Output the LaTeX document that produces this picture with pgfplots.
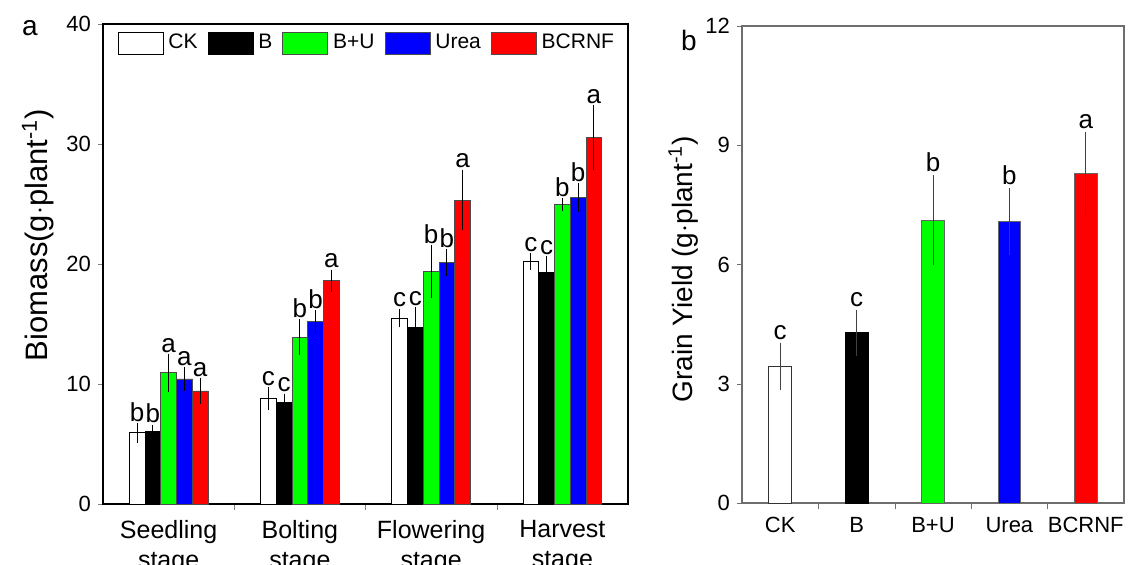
\documentclass[border=0pt]{standalone}
\usepackage{fontspec}
\setmainfont{Liberation Sans}
\usepackage{pgfplots}
\pgfplotsset{compat=1.18}

\definecolor{bgreen}{RGB}{0,255,0}
\definecolor{bblue}{RGB}{0,0,255}
\definecolor{bred}{RGB}{255,0,0}
\definecolor{frameb}{RGB}{110,110,110}

\pgfplotsset{
  barsA/.style={ybar, bar width=0.12, bar shift=0pt, line width=0.4pt,
    error bars/y dir=both, error bars/y explicit,
    error bars/error bar style={black, line width=0.5pt},
    error bars/error mark options={black, mark size=2pt, line width=0.5pt}},
  barsB/.style={ybar, bar width=0.3, bar shift=0pt, line width=0.4pt,
    error bars/y dir=both, error bars/y explicit,
    error bars/error bar style={black!75, line width=0.5pt},
    error bars/error mark options={black!75, mark size=2.5pt, line width=0.5pt}},
}

\begin{document}
\begin{tikzpicture}[x=1pt,y=1pt]
\useasboundingbox (0,0) rectangle (568,282);

% panel a
\begin{axis}[
  at={(51.5pt,30pt)}, anchor=south west,
  scale only axis, width=262.5pt, height=240pt,
  clip=false,
  xmin=0.5, xmax=4.5, ymin=0, ymax=40,
  ytick={0,10,20,30,40},
  xtick={1,2,3,4},
  xticklabels={Seedling\\stage, Bolting\\stage, Flowering\\stage, Harvest\\stage},
  minor xtick={1.5,2.5,3.5},
  every major x tick/.append style={draw=none},
  tick align=outside, major tick length=2.5pt, minor tick length=3pt,
  xtick pos=bottom, ytick pos=left,
  /pgf/number format/assume math mode=true,
  yticklabel style={font=\fontsize{11}{13}\selectfont},
  xticklabel style={font=\fontsize{12.5}{15}\selectfont, align=center, yshift=-2pt},
  ylabel={Biomass(g$\cdot$plant\textsuperscript{-1})},
  ylabel style={font=\fontsize{15.5}{18}\selectfont, at={(axis description cs:-0.124,0.56)}, anchor=center},
  axis line style={black, line width=0.6pt},
  legend image code/.code={\draw[#1, line width=0.4pt] (0pt,-5.5pt) rectangle (22.5pt,5.5pt);},
  legend style={at={(axis description cs:0.027,0.985)}, anchor=north west, draw=none, fill=none,
    legend columns=-1, font=\fontsize{10.5}{12}\selectfont, inner sep=0pt,
    nodes={inner xsep=2.5pt, inner ysep=1pt},
    /tikz/every even column/.append style={column sep=2.5pt}},
]
\addplot[barsA, fill=white, draw=black] coordinates {
  (0.76,5.94) +- (0,0.5) (1.76,8.8) +- (0,0.6) (2.76,15.5) +- (0,0.45) (3.76,20.2) +- (0,0.37)};
\addlegendentry{CK}
\addplot[barsA, fill=black, draw=black] coordinates {
  (0.88,6.08) +- (0,0.2) (1.88,8.47) +- (0,0.4) (2.88,14.75) +- (0,1.3) (3.88,19.33) +- (0,1.0)};
\addlegendentry{B}
\addplot[barsA, fill=bgreen, draw=black!70] coordinates {
  (1.0,10.94) +- (0,1.25) (2.0,13.9) +- (0,1.17) (3.0,19.36) +- (0,1.9) (4.0,24.97) +- (0,0.2)};
\addlegendentry{B+U}
\addplot[barsA, fill=bblue, draw=black!70] coordinates {
  (1.12,10.42) +- (0,0.67) (2.12,15.2) +- (0,0.6) (3.12,20.1) +- (0,0.78) (4.12,25.53) +- (0,0.9)};
\addlegendentry{Urea}
\addplot[barsA, fill=bred, draw=black!70] coordinates {
  (1.24,9.42) +- (0,0.75) (2.24,18.6) +- (0,0.6) (3.24,25.33) +- (0,2.2) (4.24,30.53) +- (0,2.4)};
\addlegendentry{BCRNF}
% significance letters
\begin{scope}[every node/.style={anchor=south, font=\fontsize{13}{15}\selectfont, inner sep=0pt, yshift=2.5pt}]
\node at (axis cs:0.76,6.44) {b};
\node at (axis cs:0.88,6.28) {b};
\node at (axis cs:1.0,12.19) {a};
\node at (axis cs:1.12,11.09) {a};
\node at (axis cs:1.24,10.17) {a};
\node at (axis cs:1.76,9.4) {c};
\node at (axis cs:1.88,8.87) {c};
\node at (axis cs:2.0,15.07) {b};
\node at (axis cs:2.12,15.8) {b};
\node at (axis cs:2.24,19.2) {a};
\node at (axis cs:2.76,15.95) {c};
\node at (axis cs:2.88,16.05) {c};
\node at (axis cs:3.0,21.26) {b};
\node at (axis cs:3.12,20.88) {b};
\node at (axis cs:3.24,27.53) {a};
\node at (axis cs:3.76,20.57) {c};
\node at (axis cs:3.88,20.33) {c};
\node at (axis cs:4.0,25.17) {b};
\node at (axis cs:4.12,26.43) {b};
\node at (axis cs:4.24,32.93) {a};
\end{scope}
\end{axis}

% panel b
\begin{axis}[
  at={(371pt,30.5pt)}, anchor=south west,
  scale only axis, width=191pt, height=238.5pt,
  clip=false,
  xmin=0.5, xmax=5.5, ymin=0, ymax=12,
  ytick={0,3,6,9,12},
  xtick={1,2,3,4,5},
  xticklabels={CK, B, B+U, Urea, BCRNF},
  minor xtick={1.5,2.5,3.5,4.5},
  every major x tick/.append style={draw=none},
  tick align=outside, major tick length=2.5pt, minor tick length=3pt,
  xtick pos=bottom, ytick pos=left,
  tick style={frameb},
  /pgf/number format/assume math mode=true,
  yticklabel style={font=\fontsize{11}{13}\selectfont},
  xticklabel style={font=\fontsize{11}{13}\selectfont, yshift=-1pt},
  ylabel={Grain Yield (g$\cdot$plant\textsuperscript{-1})},
  ylabel style={font=\fontsize{14}{16}\selectfont, at={(axis description cs:-0.154,0.49)}, anchor=center},
  axis line style={frameb, line width=0.6pt},
]
\addplot[barsB, fill=white, draw=black!80] coordinates {(1,3.43) +- (0,0.47)};
\addplot[barsB, fill=black, draw=black] coordinates {(2,4.28) +- (0,0.45)};
\addplot[barsB, fill=bgreen, draw=black!60] coordinates {(3,7.12) +- (0,1.0)};
\addplot[barsB, fill=bblue, draw=black!60] coordinates {(4,7.08) +- (0,0.71)};
\addplot[barsB, fill=bred, draw=black!60] coordinates {(5,8.29) +- (0,0.92)};
\begin{scope}[every node/.style={anchor=south, font=\fontsize{13}{15}\selectfont, inner sep=0pt, yshift=4pt}]
\node at (axis cs:1,3.9) {c};
\node at (axis cs:2,4.73) {c};
\node at (axis cs:3,8.12) {b};
\node at (axis cs:4,7.79) {b};
\node at (axis cs:5,9.21) {a};
\end{scope}
\end{axis}

% panel letters
\node[font=\fontsize{14}{16}\selectfont] at (15,268) {a};
\node[font=\fontsize{14}{16}\selectfont] at (344.5,262) {b};
\end{tikzpicture}
\end{document}
